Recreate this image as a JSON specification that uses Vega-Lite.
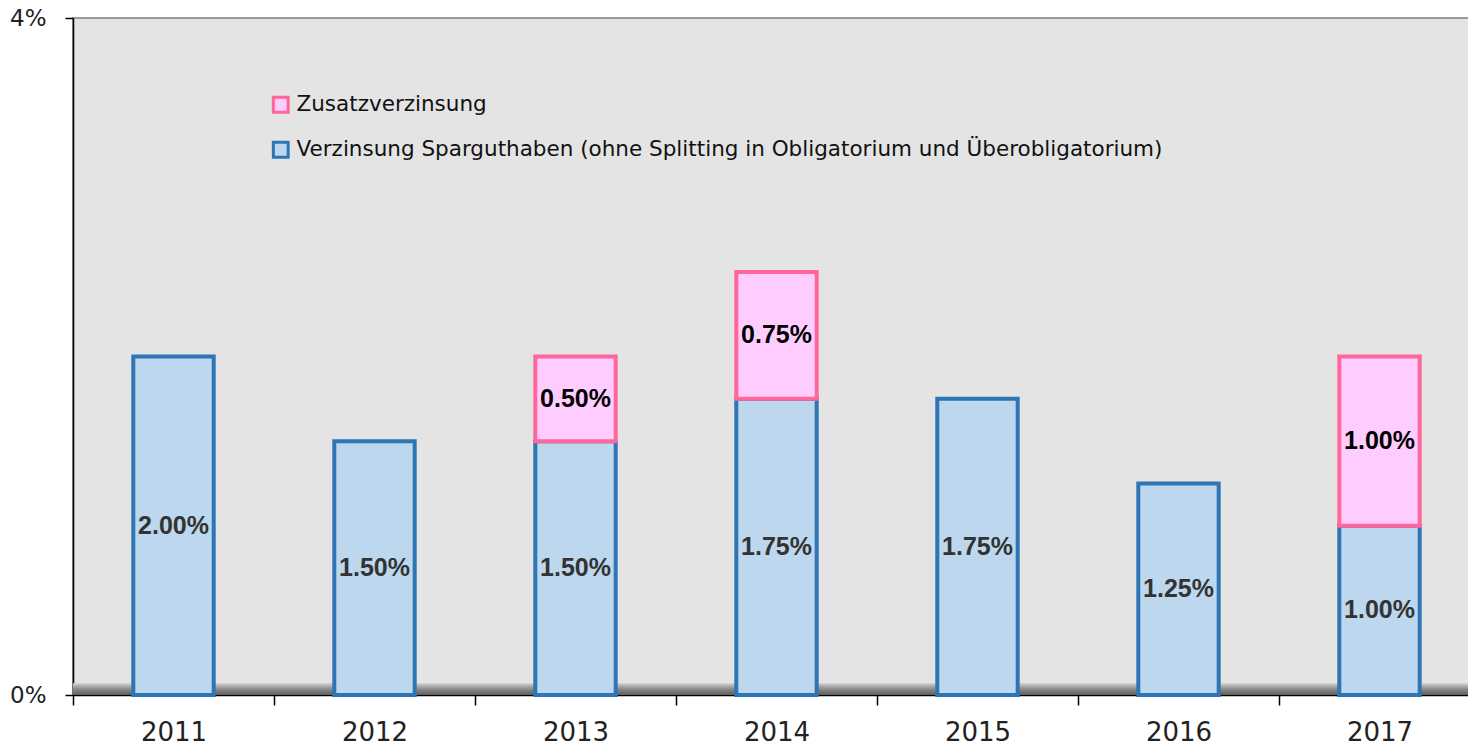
{
  "$schema": "https://vega.github.io/schema/vega-lite/v6.json",
  "autosize": {"type": "none"},
  "width": 1407,
  "height": 677,
  "padding": {"left": 73, "top": 18, "right": 0, "bottom": 54},
  "background": "#ffffff",
  "config": {
    "view": {"fill": "#e4e4e4", "stroke": "#9a9a9a", "strokeWidth": 2}
  },
  "datasets": {
    "rates": [
      {"year": "2011", "series": "Verzinsung Sparguthaben (ohne Splitting in Obligatorium und Überobligatorium)", "value": 0.02},
      {"year": "2012", "series": "Verzinsung Sparguthaben (ohne Splitting in Obligatorium und Überobligatorium)", "value": 0.015},
      {"year": "2013", "series": "Verzinsung Sparguthaben (ohne Splitting in Obligatorium und Überobligatorium)", "value": 0.015},
      {"year": "2013", "series": "Zusatzverzinsung", "value": 0.005},
      {"year": "2014", "series": "Verzinsung Sparguthaben (ohne Splitting in Obligatorium und Überobligatorium)", "value": 0.0175},
      {"year": "2014", "series": "Zusatzverzinsung", "value": 0.0075},
      {"year": "2015", "series": "Verzinsung Sparguthaben (ohne Splitting in Obligatorium und Überobligatorium)", "value": 0.0175},
      {"year": "2016", "series": "Verzinsung Sparguthaben (ohne Splitting in Obligatorium und Überobligatorium)", "value": 0.0125},
      {"year": "2017", "series": "Verzinsung Sparguthaben (ohne Splitting in Obligatorium und Überobligatorium)", "value": 0.01},
      {"year": "2017", "series": "Zusatzverzinsung", "value": 0.01}
    ]
  },
  "layer": [
    {
      "data": {"values": [{}]},
      "mark": {
        "type": "rect",
        "fill": {
          "gradient": "linear",
          "x1": 0, "y1": 1, "x2": 0, "y2": 0,
          "stops": [
            {"offset": 0, "color": "#5e5e5e"},
            {"offset": 0.5, "color": "#8a8a8a"},
            {"offset": 1, "color": "#d2d2d2"}
          ]
        }
      },
      "encoding": {
        "y": {"datum": 0, "type": "quantitative", "scale": {"domain": [0, 0.04]}},
        "y2": {"datum": 0.0007}
      }
    },
    {
      "data": {"name": "rates"},
      "mark": {"type": "bar", "strokeWidth": 4, "width": {"band": 0.4}},
      "encoding": {
        "x": {
          "field": "year", "type": "nominal",
          "scale": {"paddingInner": 0, "paddingOuter": 0},
          "axis": {
            "title": null, "labelAngle": 0, "tickBand": "extent",
            "domainColor": "#000000", "domainWidth": 1.5,
            "tickColor": "#000000", "tickWidth": 1.5, "tickSize": 10,
            "labelFont": "DejaVu Sans", "labelFontSize": 26, "labelColor": "#222222",
            "labelPadding": 14, "labelBaseline": "top"
          }
        },
        "y": {
          "field": "value", "type": "quantitative", "stack": "zero",
          "scale": {"domain": [0, 0.04], "nice": false},
          "axis": {
            "title": null, "values": [0, 0.04], "format": ".0%", "grid": false,
            "domainColor": "#000000", "domainWidth": 1.5,
            "tickColor": "#000000", "tickWidth": 1.5, "tickSize": 8,
            "labelFont": "DejaVu Sans", "labelFontSize": 23, "labelColor": "#222222",
            "labelPadding": 19
          }
        },
        "order": {"field": "series", "sort": "ascending"},
        "color": {
          "field": "series", "type": "nominal",
          "scale": {
            "domain": ["Zusatzverzinsung", "Verzinsung Sparguthaben (ohne Splitting in Obligatorium und Überobligatorium)"],
            "range": ["#ffccff", "#bdd7ee"]
          },
          "legend": {
            "title": null, "orient": "none", "legendX": 197, "legendY": 76,
            "symbolType": "square", "symbolSize": 220, "symbolStrokeWidth": 3,
            "labelFont": "DejaVu Sans", "labelFontSize": 21.5, "labelColor": "#111111",
            "rowPadding": 17, "labelOffset": 5, "labelLimit": 1200
          }
        },
        "stroke": {
          "field": "series", "type": "nominal",
          "scale": {
            "domain": ["Zusatzverzinsung", "Verzinsung Sparguthaben (ohne Splitting in Obligatorium und Überobligatorium)"],
            "range": ["#ff6699", "#2e75b6"]
          },
          "legend": {
            "title": null, "orient": "none", "legendX": 197, "legendY": 76,
            "symbolType": "square", "symbolSize": 220, "symbolStrokeWidth": 3,
            "labelFont": "DejaVu Sans", "labelFontSize": 21.5, "labelColor": "#111111",
            "rowPadding": 17, "labelOffset": 5, "labelLimit": 1200
          }
        }
      }
    },
    {
      "data": {"name": "rates"},
      "transform": [
        {"stack": "value", "groupby": ["year"], "sort": [{"field": "series", "order": "ascending"}], "as": ["v0", "v1"]},
        {"calculate": "(datum.v0 + datum.v1) / 2", "as": "mid"}
      ],
      "mark": {"type": "text", "font": "Liberation Sans", "fontWeight": "bold", "fontSize": 25, "baseline": "middle", "align": "center"},
      "encoding": {
        "x": {"field": "year", "type": "nominal"},
        "y": {"field": "mid", "type": "quantitative"},
        "text": {"field": "value", "type": "quantitative", "format": ".2%"},
        "fill": {
          "condition": {"test": "datum.series === 'Zusatzverzinsung'", "value": "#000000"},
          "value": "#333333"
        }
      }
    }
  ]
}
